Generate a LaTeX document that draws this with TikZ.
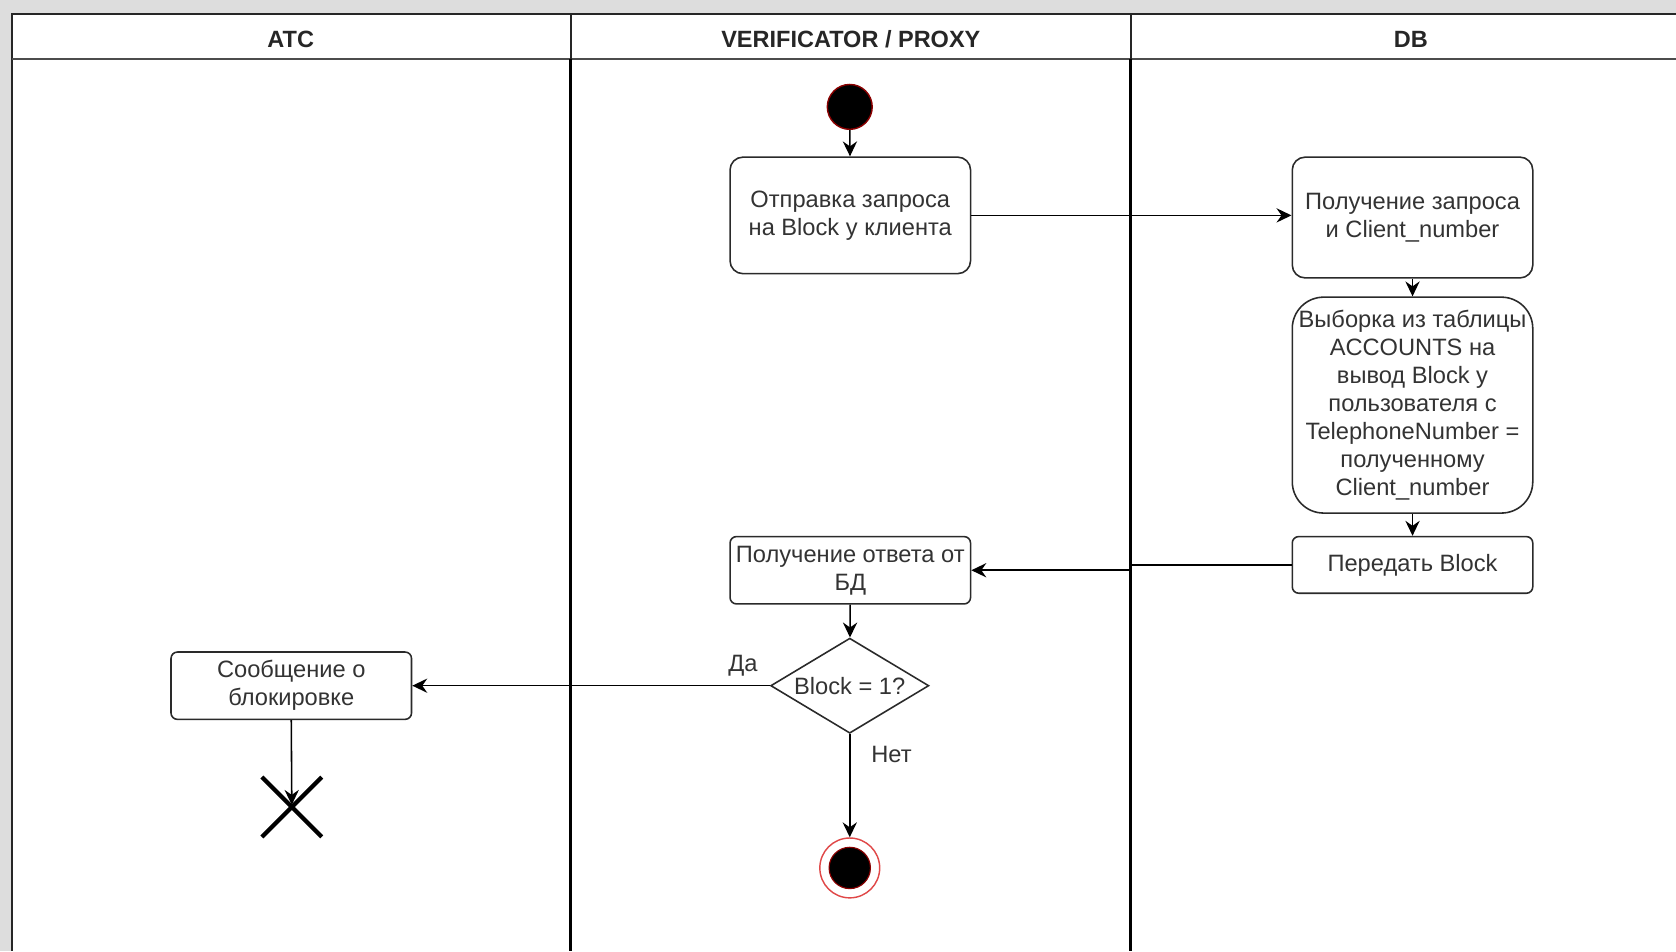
\documentclass[tikz,border=0pt]{standalone}
\usepackage{fontspec}
\setmainfont{Liberation Sans}
\usetikzlibrary{shapes.geometric,arrows.meta}
\definecolor{bg}{HTML}{DDDDDD}
\definecolor{txt}{HTML}{333333}
\definecolor{boxc}{HTML}{2A2A2A}
\definecolor{dred}{HTML}{8A0000}
\definecolor{lred}{HTML}{E04848}
\begin{document}
\begin{tikzpicture}[x=0.75pt,y=-0.75pt,
  base/.style={font=\fontsize{16.6}{19.7}\selectfont, text=txt},
  box/.style={base, draw=boxc, line width=1.1pt, rounded corners=9pt, minimum width=168.75pt, align=center, inner sep=1pt},
  boxs/.style={box, rounded corners=4.5pt},
  dia/.style={base, draw=boxc, line width=1.1pt, shape=diamond, aspect=1.66, minimum width=111pt, minimum height=66.75pt, inner sep=0pt},
  hd/.style={font=\fontsize{16.5}{18}\selectfont\bfseries, text=black!85},
  lbl/.style={base},
  arr/.style={draw=black, line width=1.1pt, -{Stealth[length=10.5pt,width=10pt,inset=3.5pt]}},
  lane/.style={draw=black, line width=2.2pt},
  frame/.style={draw=black!85, line width=1.5pt},
  startn/.style={circle, fill=black, draw=dred, line width=1pt, minimum size=31.5pt, inner sep=0pt},
  endo/.style={circle, draw=lred, line width=1pt, minimum size=42pt, inner sep=0pt},
  endi/.style={circle, fill=black, draw=dred, line width=0.8pt, minimum size=29pt, inner sep=0pt},
  xm/.style={draw=black, line width=3pt}]
\useasboundingbox (0,0) rectangle (1568,890);
\fill[bg] (0,0) rectangle (1568,890);
\fill[white] (11,13) rectangle (1568,890);
% frame and header
\draw[frame] (1568,13) -- (11,13) -- (11,890);
\draw[frame, draw=black!70] (11,55) -- (1568,55);
\draw[frame] (534,13) -- (534,55);
\draw[frame] (1058,13) -- (1058,55);
\draw[lane] (534,55) -- (534,890);
\draw[lane] (1058,55) -- (1058,890);
\node[hd] (hA) at (272,37) {ATC};
\node[hd] (hV) at (796,37) {VERIFICATOR / PROXY};
\node[hd] (hD) at (1320,37) {DB};
% nodes
\node[startn] (s) at (795,100) {};
\node[box, minimum height=81.75pt] (b1) at (795.5,201.5) {Отправка запроса\\на Block у клиента};
\node[box, minimum height=84.75pt] (b2) at (1321.5,203.5) {Получение запроса\\и Client\_number};
\node[box, rounded corners=22pt, minimum height=151.5pt] (b3) at (1321.5,379) {Выборка из таблицы\\ACCOUNTS на\\вывод Block у\\пользователя с\\TelephoneNumber =\\полученному\\Client\_number};
\node[boxs, minimum height=39.75pt] (b4) at (1321.5,528.5) {Передать Block};
\node[boxs, minimum height=47.25pt] (b5) at (795.5,533.5) {Получение ответа от\\БД};
\node[dia] (d) at (795,641.5) {Block = 1?};
\node[boxs, minimum height=47.25pt] (b6) at (272.5,641.5) {Сообщение о\\блокировке};
\node[endo] (e) at (795,812) {};
\node[endi] (ei) at (795,812) {};
\coordinate (x) at (273,753);
\draw[xm] (245,727) -- (301,783);
\draw[xm] (301,727) -- (245,783);
\node[lbl] (da) at (695,623) {Да};
\node[lbl] (net) at (834,706) {Нет};
\coordinate (j) at (1058,528.5);
% connectors
\draw[arr] (s) -- (b1);
\draw[arr] (b1.east) -- (b1.east -| b2.west);
\draw[arr] (b2) -- (b3);
\draw[arr] (b3) -- (b4);
\draw[arr] (b4.west) -- (j) |- (b5.east);
\draw[arr] (b5) -- (d);
\draw[arr] (d.west) -- (b6.east);
\draw[arr] (d.south) -- (e);
\draw[arr] (b6.south) -- (x);
\end{tikzpicture}
\end{document}
